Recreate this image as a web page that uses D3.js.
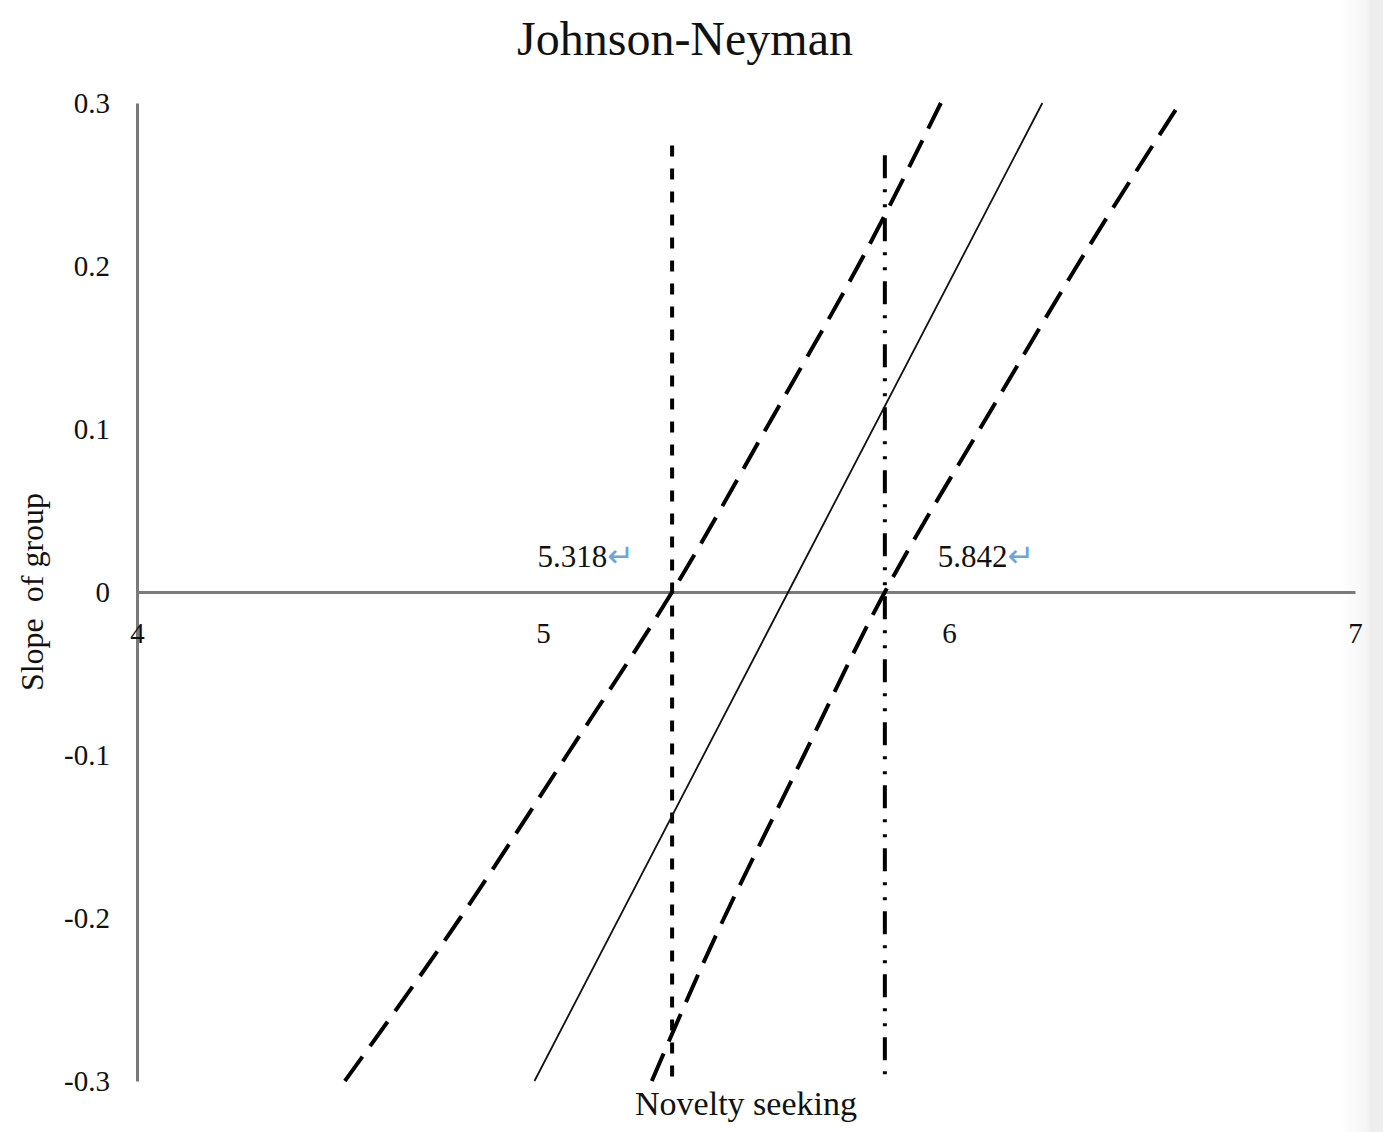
<!DOCTYPE html>
<html>
<head>
<meta charset="utf-8">
<script src="https://cdn.jsdelivr.net/npm/d3@7/dist/d3.min.js"></script>
<style>
  body { margin: 0; background: #fff; }
  text { font-family: "Liberation Serif", "Times New Roman", serif; fill: #111; }
</style>
</head>
<body>
<div id="chart"></div>
<script>
// values
var xTicks = [4, 5, 6, 7];
var xTickLabels = ["4", "5", "6", "7"];
var yTicks = [-0.3, -0.2, -0.1, 0, 0.1, 0.2, 0.3];
var yTickLabels = ["-0.3", "-0.2", "-0.1", "0", "0.1", "0.2", "0.3"];

// simple slope line (solid)
var slopeY = [-0.3, 0, 0.3];
var slopeX = [4.979, 5.604, 6.230];

// confidence bands (x read at each y)
var bandY = [-0.3, -0.2, -0.1, 0, 0.1, 0.2, 0.3];
var upperX = [4.512, 4.796, 5.059, 5.318, 5.549, 5.776, 5.980];
var lowerX = [5.268, 5.446, 5.643, 5.842, 6.076, 6.315, 6.569];

// Johnson-Neyman points
var jnX = [5.318, 5.842];
var jnLabels = ["5.318", "5.842"];
var jnTop = [0.274, 0.268];
var jnBottom = [-0.3025, -0.297];

var W = 1383, H = 1132;
var svg = d3.select("#chart").append("svg")
  .attr("width", W)
  .attr("height", H);

var x = d3.scaleLinear().domain([4, 7]).range([137, 1355]);
var y = d3.scaleLinear().domain([-0.3, 0.3]).range([1081, 103]);

// faint grey edge on the right
var defs = svg.append("defs");
var grad = defs.append("linearGradient").attr("id", "edge")
  .attr("x1", "0").attr("x2", "1").attr("y1", "0").attr("y2", "0");
grad.append("stop").attr("offset", "0").attr("stop-color", "#ffffff");
grad.append("stop").attr("offset", "0.6").attr("stop-color", "#f6f6f6");
grad.append("stop").attr("offset", "0.7").attr("stop-color", "#eeeeee");
grad.append("stop").attr("offset", "1").attr("stop-color", "#eeeeee");
svg.append("rect")
  .attr("x", 1340).attr("y", 0)
  .attr("width", W - 1340).attr("height", H)
  .attr("fill", "url(#edge)");

// title
svg.append("text")
  .attr("x", 685).attr("y", 55)
  .attr("text-anchor", "middle")
  .style("font-size", "48px")
  .text("Johnson-Neyman");

// y axis
var yAxis = d3.axisLeft(y)
  .tickValues(yTicks)
  .tickFormat(function(d, i) { return yTickLabels[i]; })
  .tickSize(0)
  .tickPadding(27);
var gy = svg.append("g")
  .attr("class", "axis axis-y")
  .attr("transform", "translate(" + x(4) + ",0)")
  .call(yAxis);
gy.select(".domain").attr("stroke", "#7a7a7a").attr("stroke-width", 3);
gy.selectAll("text")
  .style("font-size", "29px")
  .style("font-family", "Liberation Serif, serif")
  .attr("fill", "#111");

// x axis sits on y = 0
var xAxis = d3.axisBottom(x)
  .tickValues(xTicks)
  .tickFormat(function(d, i) { return xTickLabels[i]; })
  .tickSize(0)
  .tickPadding(30);
var gx = svg.append("g")
  .attr("class", "axis axis-x")
  .attr("transform", "translate(0," + y(0) + ")")
  .call(xAxis);
gx.select(".domain").attr("stroke", "#7a7a7a").attr("stroke-width", 3);
gx.selectAll("text")
  .style("font-size", "29px")
  .style("font-family", "Liberation Serif, serif")
  .attr("fill", "#111");

// axis titles
svg.append("text")
  .attr("transform", "translate(43," + y(0) + ") rotate(-90)")
  .attr("text-anchor", "middle")
  .style("font-size", "32px")
  .style("white-space", "pre")
  .text("Slope  of group");

svg.append("text")
  .attr("x", 746).attr("y", 1115)
  .attr("text-anchor", "middle")
  .style("font-size", "34px")
  .text("Novelty seeking");

// vertical JN lines
var jnStyles = [
  { dash: "11,12" },
  { dash: "23,11,3,12,3,11" }
];
jnX.forEach(function(v, i) {
  svg.append("line")
    .attr("class", "jn-line")
    .attr("x1", x(v)).attr("x2", x(v))
    .attr("y1", y(jnTop[i])).attr("y2", y(jnBottom[i]))
    .attr("stroke", "#000")
    .attr("stroke-width", 4)
    .attr("stroke-dasharray", jnStyles[i].dash);
});

// band and slope lines (drawn from bottom to top)
var bandLine = d3.line()
  .x(function(d) { return x(d[0]); })
  .y(function(d) { return y(d[1]); })
  .curve(d3.curveNatural);

var upper = upperX.map(function(v, i) { return [v, bandY[i]]; });
var lower = lowerX.map(function(v, i) { return [v, bandY[i]]; });
var slope = slopeX.map(function(v, i) { return [v, slopeY[i]]; });

[upper, lower].forEach(function(pts) {
  svg.append("path")
    .datum(pts)
    .attr("class", "band")
    .attr("d", bandLine)
    .attr("fill", "none")
    .attr("stroke", "#000")
    .attr("stroke-width", 4)
    .attr("stroke-dasharray", "30,13");
});

svg.append("path")
  .datum(slope)
  .attr("class", "slope")
  .attr("d", d3.line().x(function(d) { return x(d[0]); }).y(function(d) { return y(d[1]); }))
  .attr("fill", "none")
  .attr("stroke", "#111")
  .attr("stroke-width", 1.8);

// JN labels
var labelOffsets = [-38, 53];
var labelAnchors = ["end", "start"];
jnX.forEach(function(v, i) {
  var t = svg.append("text")
    .attr("x", x(v) + labelOffsets[i])
    .attr("y", y(0) - 25)
    .attr("text-anchor", labelAnchors[i])
    .style("font-size", "31px");
  t.append("tspan").text(jnLabels[i]);
  t.append("tspan")
    .style("font-family", "DejaVu Sans, sans-serif")
    .style("font-size", "32px")
    .style("fill", "#6aa5dc")
    .text("\u21b5");
});
</script>
</body>
</html>
